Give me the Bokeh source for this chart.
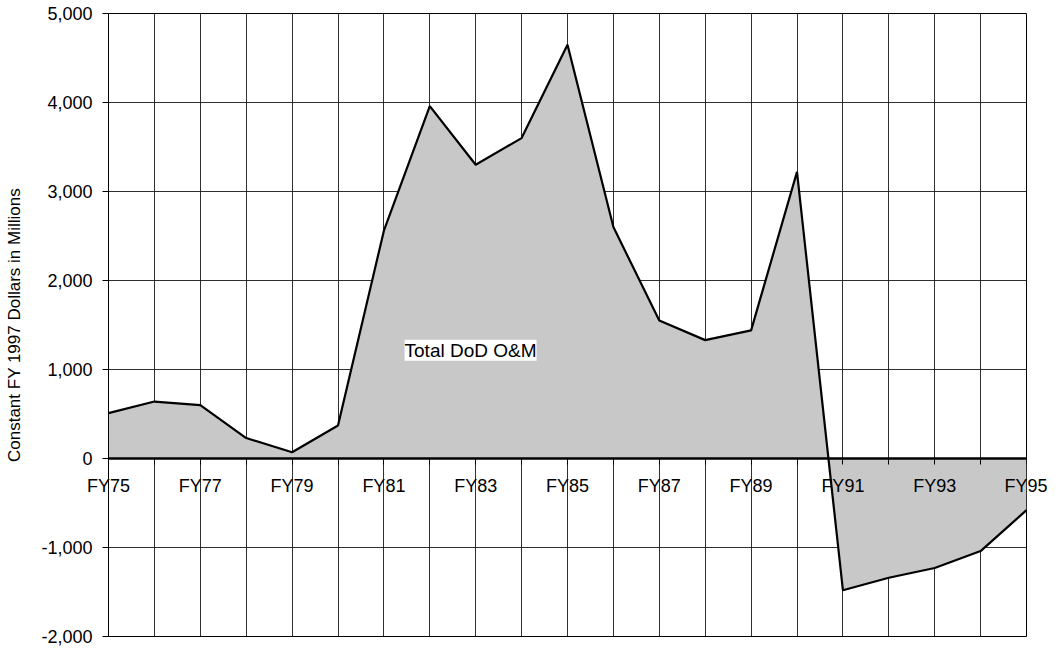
from bokeh.plotting import figure
from bokeh.models import Range1d, FixedTicker, NumeralTickFormatter, Span, Label, LinearAxis
from bokeh.embed import file_html
from bokeh.resources import INLINE

# Data
years = list(range(75, 96))
values = [510, 640, 600, 230, 70, 370, 2560, 3960, 3300, 3600, 4650,
          2600, 1550, 1330, 1440, 3220, -1480, -1340, -1230, -1040, -580]
label_years = [75, 77, 79, 81, 83, 85, 87, 89, 91, 93, 95]
label_texts = ["FY75", "FY77", "FY79", "FY81", "FY83", "FY85",
               "FY87", "FY89", "FY91", "FY93", "FY95"]
y_ticks = [-2000, -1000, 0, 1000, 2000, 3000, 4000, 5000]
series_name = "Total DoD O&M"
y_title = "Constant FY 1997 Dollars in Millions"

FONT = "Liberation Sans"
W, H = 1047, 646
B_LEFT, B_TOP, B_RIGHT, B_BOTTOM = 108, 13, 21, 10
Y0, Y1 = -2000, 5000

p = figure(width=W, height=H, output_backend="svg", toolbar_location=None,
           x_range=Range1d(75, 95), y_range=Range1d(Y0, Y1),
           min_border_left=B_LEFT, min_border_top=B_TOP,
           min_border_right=B_RIGHT, min_border_bottom=B_BOTTOM)

p.background_fill_color = "white"
p.border_fill_color = "white"
p.outline_line_color = "black"
p.outline_line_width = 1

# grids
p.xgrid.ticker = FixedTicker(ticks=years)
p.ygrid.ticker = FixedTicker(ticks=y_ticks)
for g in (p.xgrid, p.ygrid):
    g.grid_line_color = "#1a1a1a"
    g.grid_line_width = 1
    g.grid_line_alpha = 0.9

yax = p.yaxis[0]
yax.ticker = FixedTicker(ticks=y_ticks)
yax.formatter = NumeralTickFormatter(format="0,0")
yax.axis_line_color = "black"
yax.major_tick_line_color = "black"
yax.major_tick_out = 6
yax.major_tick_in = 0
yax.minor_tick_line_color = None
yax.major_label_standoff = 10
yax.major_label_text_font = FONT
yax.major_label_text_font_size = "18px"
yax.major_label_text_color = "black"
yax.axis_label = y_title
yax.axis_label_text_font = FONT
yax.axis_label_text_font_size = "17px"
yax.axis_label_text_font_style = "normal"
yax.axis_label_text_color = "black"
yax.axis_label_standoff = 14

# area
p.varea(x=years, y1=[0] * len(years), y2=values, fill_color="#c8c8c8", fill_alpha=1.0)
p.line(x=years, y=values, line_color="black", line_width=2.2)

p.add_layout(Span(location=0, dimension="width", line_color="black", line_width=2.5))

# small ticks along the zero line
zax = LinearAxis(fixed_location=0)
zax.ticker = FixedTicker(ticks=years)
zax.major_label_text_font_size = "0px"
zax.major_label_text_alpha = 0
zax.axis_line_color = None
zax.major_tick_line_color = "black"
zax.major_tick_in = 0
zax.major_tick_out = 6
zax.minor_tick_line_color = None
p.add_layout(zax, "below")

# category labels: bottom axis whose labels are lifted to sit just under the zero line
frame_h = H - B_TOP - B_BOTTOM
zero_px = B_TOP + frame_h * (Y1 - 0) / (Y1 - Y0)
frame_bottom_px = H - B_BOTTOM
xax = p.xaxis[0]
xax.ticker = FixedTicker(ticks=label_years)
xax.major_label_overrides = {yr: txt for yr, txt in zip(label_years, label_texts)}
xax.axis_line_color = None
xax.major_tick_line_color = None
xax.minor_tick_line_color = None
xax.major_tick_out = 0
xax.major_tick_in = 0
xax.major_label_standoff = int(round(zero_px + 17 - frame_bottom_px))
xax.major_label_text_font = FONT
xax.major_label_text_font_size = "18px"
xax.major_label_text_color = "black"

p.add_layout(Label(x=81.45, y=1215, text=series_name, text_align="left",
                   text_baseline="middle", text_font=FONT, text_font_size="19px",
                   text_color="black", background_fill_color="white",
                   background_fill_alpha=1.0))

open("out.html", "w").write(file_html(p, INLINE))
